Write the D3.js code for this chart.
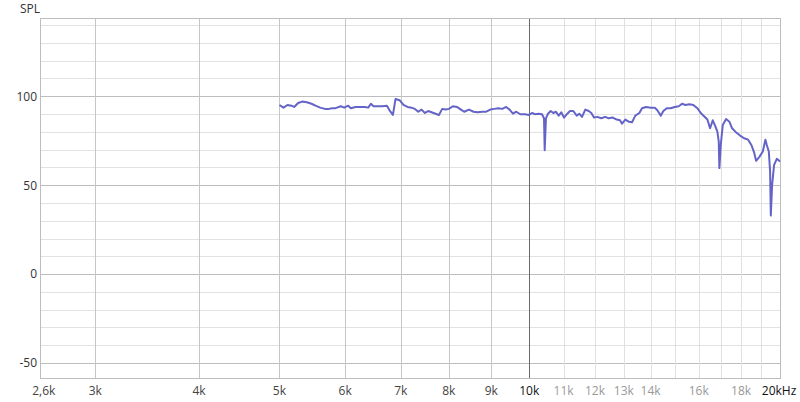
<!DOCTYPE html>
<html>
<head>
<meta charset="utf-8">
<script src="https://cdn.jsdelivr.net/npm/d3@7"></script>
<style>
  html, body { margin: 0; padding: 0; background: #fff; }
  svg { display: block; font-family: "Open Sans", "Noto Sans", sans-serif; }
</style>
</head>
<body>
<svg id="chart" width="800" height="402"></svg>
<script>
// ---- data ----
const freqs = [
  5000, 5056, 5112, 5169, 5208, 5266, 5325, 5395, 5465, 5526, 5598, 5672, 5735, 5788, 5841,
  5929, 5984, 6051, 6096, 6174, 6256, 6338, 6396, 6444, 6491, 6563, 6649, 6737, 6786, 6850,
  6900, 6977, 7054, 7133, 7213, 7281, 7348, 7416, 7486, 7555, 7625, 7710, 7783, 7854, 7927,
  8002, 8091, 8182, 8273, 8349, 8459, 8567, 8663, 8777, 8875, 8974, 9074, 9175, 9278, 9381,
  9468, 9558, 9646, 9753, 9881, 9992,
  10075, 10168, 10264, 10359, 10417, 10437, 10474, 10533, 10612, 10689, 10769, 10850, 10929,
  11011, 11113, 11196, 11299, 11406, 11489, 11575, 11682, 11793, 11878, 11968, 12078, 12212,
  12349, 12466, 12605, 12746, 12863, 12935, 13054, 13178, 13299, 13421, 13571, 13673, 13826,
  14007, 14164, 14266, 14402, 14506, 14644, 14807, 14972, 15140, 15280, 15420, 15592, 15766,
  15942, 16093, 16241, 16391, 16514, 16638, 16759, 16852, 16917, 16946, 17012, 17107, 17264,
  17423, 17554, 17716, 17948, 18148, 18351, 18520, 18659, 18763, 18936, 19116, 19254, 19329,
  19437, 19507, 19545, 19616, 19725, 19873, 19984, 20040
];
const spl = [
  95.1, 93.6, 95.1, 94.7, 94.0, 96.2, 97.0, 96.6, 95.8, 94.7, 93.6, 92.9, 92.9, 93.3, 93.3,
  94.4, 93.6, 94.7, 93.3, 94.0, 94.0, 94.0, 93.6, 95.8, 94.4, 94.4, 94.4, 94.7, 92.1, 89.5,
  98.5, 97.8, 95.1, 94.0, 93.6, 92.9, 91.3, 92.5, 90.6, 91.7, 91.0, 90.2, 89.5, 92.9, 92.5,
  92.9, 94.4, 94.0, 92.5, 91.3, 92.5, 91.3, 91.0, 91.3, 91.3, 92.5, 92.9, 93.3, 92.9, 94.0,
  92.5, 90.2, 91.3, 89.9, 89.9, 89.5,
  90.6, 89.9, 90.2, 89.9, 87.6, 69.7, 87.6, 90.2, 91.7, 90.6, 91.3, 89.1, 91.0,
  88.0, 90.2, 91.7, 91.7, 89.1, 90.2, 88.4, 92.5, 91.7, 90.6, 88.0, 88.4, 87.6,
  88.4, 87.6, 88.0, 86.9, 86.5, 84.6, 86.9, 85.7, 85.4, 89.1, 90.6, 93.3, 94.0,
  93.6, 93.6, 92.1, 89.1, 91.7, 93.3, 93.3, 94.0, 94.4, 95.8, 95.1, 95.5, 95.1,
  93.3, 90.6, 88.8, 86.9, 82.0, 86.5, 83.1, 80.1, 74.5, 59.6, 72.6, 83.9, 87.2,
  85.7, 82.0, 80.1, 77.9, 76.4, 75.6, 72.6, 68.5, 63.7, 65.9, 68.9, 75.6, 72.6,
  68.9, 57.6, 32.9, 50.2, 61.4, 64.8, 64.0, 63.3
];
const yTicks = [100, 50, 0, -50];
const yGrid = [140, 130, 120, 110, 100, 90, 80, 70, 60, 50, 40, 30, 20, 10, 0, -10, -20, -30, -40, -50];
const xGridMain = [3000, 4000, 5000, 6000, 7000, 8000, 9000];
const xGridHigh = [11000, 12000, 13000, 14000, 15000, 16000, 17000, 18000, 19000];
const xLabels = [
  {f: 2600, t: "2,6k", c: "#444"}, {f: 3000, t: "3k", c: "#444"}, {f: 4000, t: "4k", c: "#444"},
  {f: 5000, t: "5k", c: "#444"}, {f: 6000, t: "6k", c: "#444"}, {f: 7000, t: "7k", c: "#444"},
  {f: 8000, t: "8k", c: "#444"}, {f: 9000, t: "9k", c: "#444"}, {f: 10000, t: "10k", c: "#111"},
  {f: 11000, t: "11k", c: "#999"}, {f: 12000, t: "12k", c: "#999"}, {f: 13000, t: "13k", c: "#999"},
  {f: 14000, t: "14k", c: "#999"}, {f: 16000, t: "16k", c: "#999"}, {f: 18000, t: "18k", c: "#999"},
  {f: 20000, t: "20kHz", c: "#111"}
];

// ---- layout ----
const L = 40, R = 780, T = 18, B = 378;
const x = d3.scaleLog().domain([2573, 20050]).range([L, R]);
const y = d3.scaleLinear().domain([-58.4, 144]).range([B, T]);

const svg = d3.select("#chart");
svg.append("rect").attr("width", 800).attr("height", 402).attr("fill", "#fff");

const g = svg.append("g");

// horizontal grid
g.selectAll("line.hg").data(yGrid).join("line")
  .attr("x1", L).attr("x2", R)
  .attr("y1", d => Math.round(y(d)) + 0.5).attr("y2", d => Math.round(y(d)) + 0.5)
  .attr("stroke", d => yTicks.includes(d) ? "#bdbdbd" : "#e2e2e2")
  .attr("stroke-width", 1);

// vertical grid
g.selectAll("line.vg1").data(xGridMain).join("line")
  .attr("x1", d => Math.round(x(d)) + 0.5).attr("x2", d => Math.round(x(d)) + 0.5)
  .attr("y1", T).attr("y2", B)
  .attr("stroke", "#c6c6c6");
g.selectAll("line.vg2").data(xGridHigh).join("line")
  .attr("x1", d => Math.round(x(d)) + 0.5).attr("x2", d => Math.round(x(d)) + 0.5)
  .attr("y1", T).attr("y2", B)
  .attr("stroke", "#e0e0e0");
g.append("line")
  .attr("x1", Math.round(x(10000)) + 0.5).attr("x2", Math.round(x(10000)) + 0.5)
  .attr("y1", T).attr("y2", B)
  .attr("stroke", "#6a6a6a");

// border
g.append("rect")
  .attr("x", L + 0.5).attr("y", T + 0.5)
  .attr("width", R - L).attr("height", B - T)
  .attr("fill", "none").attr("stroke", "#bdbdbd");

// y labels
svg.selectAll("text.yl").data(yTicks).join("text")
  .attr("x", 37).attr("y", d => y(d)).attr("dy", "0.36em")
  .attr("text-anchor", "end").attr("font-size", 12).attr("fill", "#333")
  .text(d => d);

svg.append("text").attr("x", 20).attr("y", 13)
  .attr("font-size", 12).attr("fill", "#333").text("SPL");

// x labels
svg.selectAll("text.xl").data(xLabels).join("text")
  .attr("x", d => x(d.f)).attr("y", 395)
  .attr("text-anchor", "middle").attr("font-size", 12)
  .attr("fill", d => d.c)
  .text(d => d.t);

// curve
const pts = freqs.map((f, i) => [f, spl[i]]);
svg.append("path")
  .datum(pts)
  .attr("fill", "none")
  .attr("stroke", "#6464c8")
  .attr("stroke-width", 2)
  .attr("stroke-linejoin", "round")
  .attr("d", d3.line().x(d => x(d[0])).y(d => y(d[1])));
</script>
</body>
</html>
